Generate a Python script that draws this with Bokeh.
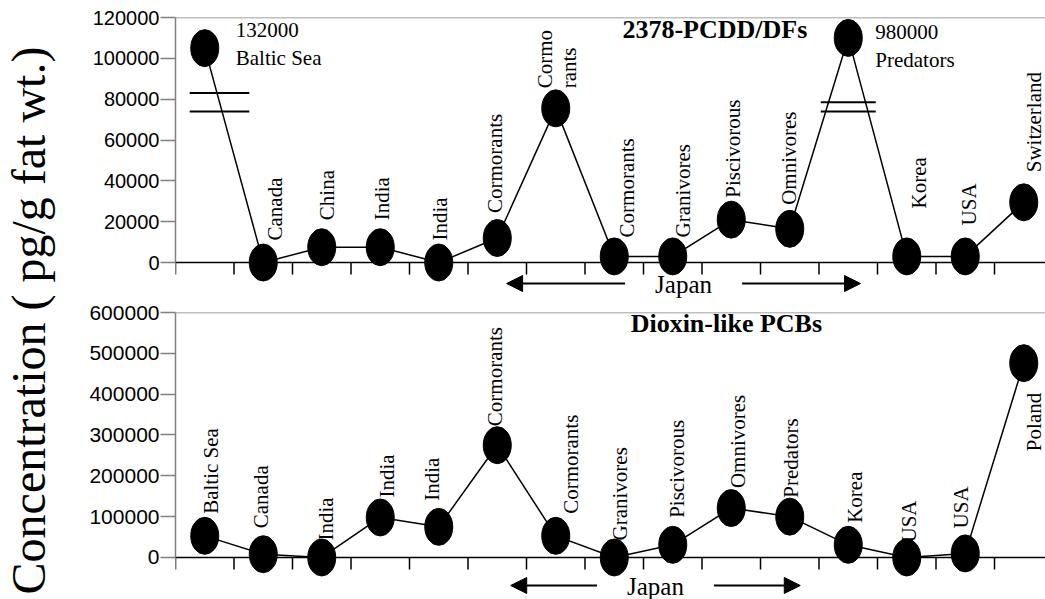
import numpy as np
from bokeh.plotting import figure
from bokeh.layouts import row, column
from bokeh.models import (Range1d, FixedTicker, BasicTickFormatter, Span,
                          Arrow, NormalHead, ColumnDataSource)
from bokeh.core.properties import value
from bokeh.embed import file_html
from bokeh.resources import INLINE

# ---------------- data ----------------
pcdd_sites = ["Baltic Sea", "Canada", "China", "India", "India", "Cormorants",
              "Cormo\nrants", "Cormorants", "Granivores", "Piscivorous", "Omnivores",
              "Predators", "Korea", "USA", "Switzerland"]
pcdd_values = [105000, 0, 7500, 7500, 0, 12000, 75500, 3000, 3000, 21000, 16500,
               110000, 3000, 3000, 29500]
pcdd_offscale_idx = [0, 11]
pcdd_offscale_text = ["132000", "980000"]

pcb_sites = ["Baltic Sea", "Canada", "India", "India", "India", "Cormorants",
             "Cormorants", "Granivores", "Piscivorous", "Omnivores", "Predators",
             "Korea", "USA", "USA", "Poland"]
pcb_values = [53000, 8000, 0, 98000, 75000, 275000, 53000, 0, 31000, 121000,
              100000, 31000, 0, 10000, 476000]

pcdd_ticks = [0, 20000, 40000, 60000, 80000, 100000, 120000]
pcb_ticks = [0, 100000, 200000, 300000, 400000, 500000, 600000]

# label placement (screen px: dx right, dy up)
pcdd_lab_dx = [0, 12, 5, 2, 1, -2, 1, 13, 10, 2, -1, 0, 12, 4, 10]
pcdd_lab_dy = [0, 22, 27, 27, 22, 25, 20, 19, 19, 22, 24, 0, 48, 31, 30]
pcb_lab_dx = [6, -2, 4, 7, -7, -2, 15, 6, 4, 7, 1, 7, 2, -4, 10]
pcb_lab_dy = [22, 26, 17, 20, 26, 19, 22, 17, 27, 20, 19, 22, 15, 25, -88]

SERIF = value("Liberation Serif")
SANS = "Liberation Sans"

TOTAL_W, TOTAL_H = 1045, 599
LAB_W = 60
PANEL_W = TOTAL_W - LAB_W
BORDER_L = 115
XMAX = (PANEL_W - BORDER_L) / 58.5


def make_panel(sites, vals, ticks, yrange, height, border_top, tick_font, lab_dx, lab_dy,
               skip_idx=()):
    ymin, ymax = yrange
    p = figure(width=PANEL_W, height=height, x_range=Range1d(0, XMAX),
               y_range=Range1d(ymin, ymax), x_axis_location=None,
               toolbar_location=None, output_backend="svg",
               min_border_left=BORDER_L, min_border_right=0,
               min_border_top=border_top, min_border_bottom=0)
    p.outline_line_color = None
    p.grid.visible = False
    p.background_fill_color = "white"
    p.border_fill_color = "white"

    ax = p.yaxis[0]
    ax.ticker = FixedTicker(ticks=ticks)
    ax.formatter = BasicTickFormatter(use_scientific=False)
    ax.bounds = (0, ticks[-1])
    ax.axis_line_color = "#808080"
    ax.axis_line_width = 1.5
    ax.major_tick_line_color = "#808080"
    ax.major_tick_line_width = 1.5
    ax.major_tick_out = 15
    ax.major_tick_in = 0
    ax.minor_tick_out = 0
    ax.minor_tick_in = 0
    ax.major_label_standoff = 1
    ax.major_label_text_font = SANS
    ax.major_label_text_font_size = tick_font
    ax.major_label_text_color = "black"

    n = len(sites)
    frame_h = height - border_top
    px = (ymax - ymin) / frame_h

    # top border and zero baseline
    p.add_layout(Span(location=ticks[-1], dimension="width", line_color="#808080",
                      line_width=1.5))
    p.add_layout(Span(location=0, dimension="width", line_color="black", line_width=1.5))
    bounds = np.arange(n + 1)
    p.segment(x0=bounds, y0=np.zeros(n + 1), x1=bounds, y1=np.full(n + 1, -12 * px),
              line_color="black", line_width=1.5)

    x = np.arange(n) + 0.5
    p.line(x, vals, line_color="black", line_width=1.5)
    p.ellipse(x, vals, width=28, height=37, width_units="screen", height_units="screen",
              fill_color="black", line_color="black")

    keep = [i for i in range(n) if i not in skip_idx]
    src = ColumnDataSource(dict(x=[x[i] for i in keep], y=[vals[i] for i in keep],
                                t=[sites[i] for i in keep],
                                dx=[lab_dx[i] for i in keep],
                                dy=[-lab_dy[i] for i in keep]))
    p.text(x="x", y="y", text="t", source=src, angle=np.pi / 2, text_align="left",
           text_baseline="middle", x_offset="dx", y_offset="dy", text_font=SERIF,
           text_font_size="21px", text_color="black", text_line_height=1.0)
    return p, px


def title(p, x, y, txt):
    p.text(x=[x], y=[y], text=[txt], text_font=SERIF, text_font_style="bold",
           text_font_size="26px", text_align="left", text_baseline="middle",
           text_color="black")


# Japan group
def japan(p, lo, hi, y_arrow, y_text, size):
    mid = (lo + hi) / 2
    for start, end in ((mid - 1.0, lo), (mid + 1.0, hi)):
        p.add_layout(Arrow(x_start=start, y_start=y_arrow, x_end=end, y_end=y_arrow,
                           line_width=2, line_color="black",
                           end=NormalHead(size=16, fill_color="black", line_color="black")))
    p.text(x=[mid], y=[y_text], text=["Japan"], text_font=SERIF, text_font_size=size,
           text_align="center", text_baseline="middle", text_color="black")


# ---------------- top panel ----------------
top, px_t = make_panel(pcdd_sites, pcdd_values, pcdd_ticks, (-18600, 120000), 300, 17,
                       "20px", pcdd_lab_dx, pcdd_lab_dy, skip_idx=pcdd_offscale_idx)

# off-scale annotations (true values)
ann_x = [pcdd_offscale_idx[0] + 0.5, pcdd_offscale_idx[1] + 0.5]
ann_y = [pcdd_values[i] for i in pcdd_offscale_idx]
ann_t = [f"{pcdd_offscale_text[k]}\n{pcdd_sites[i]}" for k, i in enumerate(pcdd_offscale_idx)]
top.text(x=ann_x, y=ann_y, text=ann_t, x_offset=[31, 27], y_offset=[-30, -18],
         text_align="left", text_baseline="top", text_font=SERIF, text_font_size="21px",
         text_line_height=1.15, text_color="black")

# axis-break marks
i0 = pcdd_offscale_idx[0]
b0_mid = (83000 + 74000) / 2
b0_x = i0 + 0.5 + (pcdd_values[i0] - b0_mid) / (pcdd_values[i0] - pcdd_values[i0 + 1])
i1 = pcdd_offscale_idx[1]
b1_x = i1 + 0.5
bx0 = [b0_x - 0.51, b0_x - 0.51, b1_x - 0.47, b1_x - 0.47]
bx1 = [b0_x + 0.51, b0_x + 0.51, b1_x + 0.47, b1_x + 0.47]
by = [83000, 74000, 78500, 74000]
top.segment(x0=bx0, y0=by, x1=bx1, y1=by, line_color="black", line_width=2)

title(top, 7.64, 113900, "2378-PCDD/DFs")
japan(top, 5.66, 11.71, -21 * px_t, -22 * px_t, "25px")

# ---------------- bottom panel ----------------
bot, px_b = make_panel(pcb_sites, pcb_values, pcb_ticks, (-102900, 600000), 299, 12,
                       "21px", pcb_lab_dx, pcb_lab_dy)
title(bot, 7.78, 574200, "Dioxin-like PCBs")
japan(bot, 5.73, 10.68, -28 * px_b, -29 * px_b, "25px")

# ---------------- shared y label ----------------
lab = figure(width=LAB_W, height=TOTAL_H, x_range=Range1d(0, LAB_W),
             y_range=Range1d(0, TOTAL_H), x_axis_location=None, y_axis_location=None,
             toolbar_location=None, output_backend="svg", min_border=0)
lab.outline_line_color = None
lab.grid.visible = False
lab.text(x=[28], y=[279], text=["Concentration ( pg/g fat wt.)"], angle=np.pi / 2,
         text_align="center", text_baseline="middle", text_color="black",
         text_font=SERIF, text_font_size="48px")

layout = row(lab, column(top, bot, spacing=0), spacing=0)
open("out.html", "w").write(file_html(layout, INLINE))
